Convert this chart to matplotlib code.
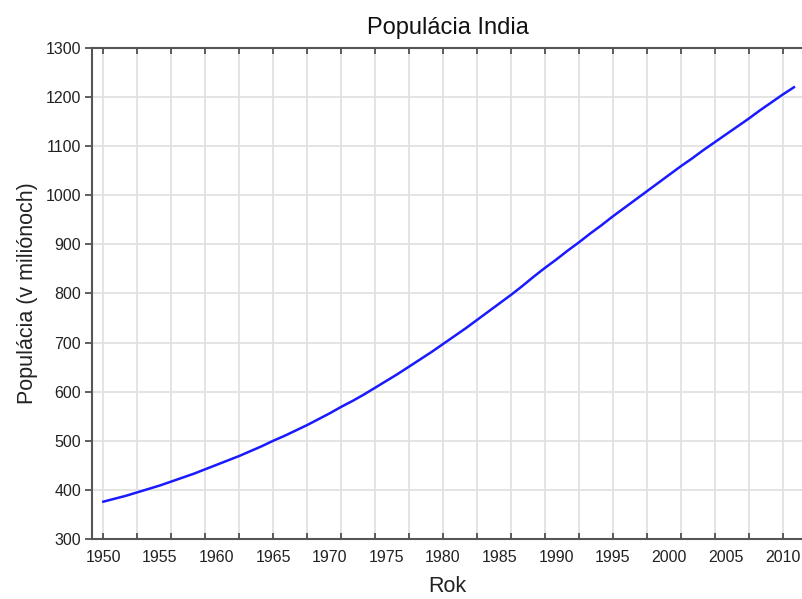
import numpy as np
import matplotlib.pyplot as plt
from matplotlib.ticker import FixedLocator, NullFormatter

# India population (millions)
years = np.arange(1950, 2012)
population = [
    376, 382, 388, 395, 402, 409, 417, 425, 433, 442,
    451, 460, 469, 479, 489, 500, 510, 521, 532, 544,
    556, 569, 581, 594, 608, 622, 636, 651, 666, 681,
    697, 713, 729, 746, 763, 780, 797, 815, 834, 852,
    869, 887, 904, 922, 939, 957, 974, 991, 1008, 1025,
    1042, 1059, 1075, 1092, 1108, 1124, 1140, 1156, 1173, 1189,
    1205, 1220,
]
grid_years = list(range(1950, 2014, 3))
label_years = list(range(1950, 2011, 5))
y_ticks = list(range(300, 1301, 100))

plt.rcParams['font.family'] = ['Liberation Sans', 'DejaVu Sans']

fig = plt.figure(figsize=(8.03, 5.99), dpi=100)
ax = fig.add_axes([0.1146, 0.1002, 0.8854, 0.8197])

ax.plot(years, population, color="#1a1aff", linewidth=1.8)

ax.set_xlim(1949.0, 2011.8)
ax.set_ylim(300, 1300)

# grid + tick marks every 3 years, labels every 5 years
ax.xaxis.remove_overlapping_locs = False
ax.xaxis.set_major_locator(FixedLocator(grid_years))
ax.xaxis.set_major_formatter(NullFormatter())
ax.xaxis.set_minor_locator(FixedLocator(label_years))
ax.set_xticklabels([str(y) for y in label_years], minor=True)
ax.tick_params(axis="x", which="major", direction="in", length=4, width=1.2,
               color="#444444", top=True, bottom=True)
ax.tick_params(axis="x", which="minor", length=0, labelsize=11.5, pad=8,
               labelcolor="#222222")

ax.set_yticks(y_ticks)
ax.tick_params(axis="y", which="major", direction="out", length=5, width=1.2,
               color="#444444", labelsize=11.5, pad=3, labelcolor="#222222")

ax.grid(True, which="major", color="#e2e2e2", linewidth=1.3)
ax.set_axisbelow(True)

for side in ["left", "bottom", "top"]:
    ax.spines[side].set_color("#555555")
    ax.spines[side].set_linewidth(1.5)
ax.spines["right"].set_visible(False)

ax.set_title("Populácia India", fontsize=17, pad=10, color="#111111")
ax.set_xlabel("Rok", fontsize=15.5, labelpad=8, color="#222222")
ax.set_ylabel("Populácia (v miliónoch)", fontsize=15.5, labelpad=5, color="#222222")

plt.savefig("out.png", dpi=100)
